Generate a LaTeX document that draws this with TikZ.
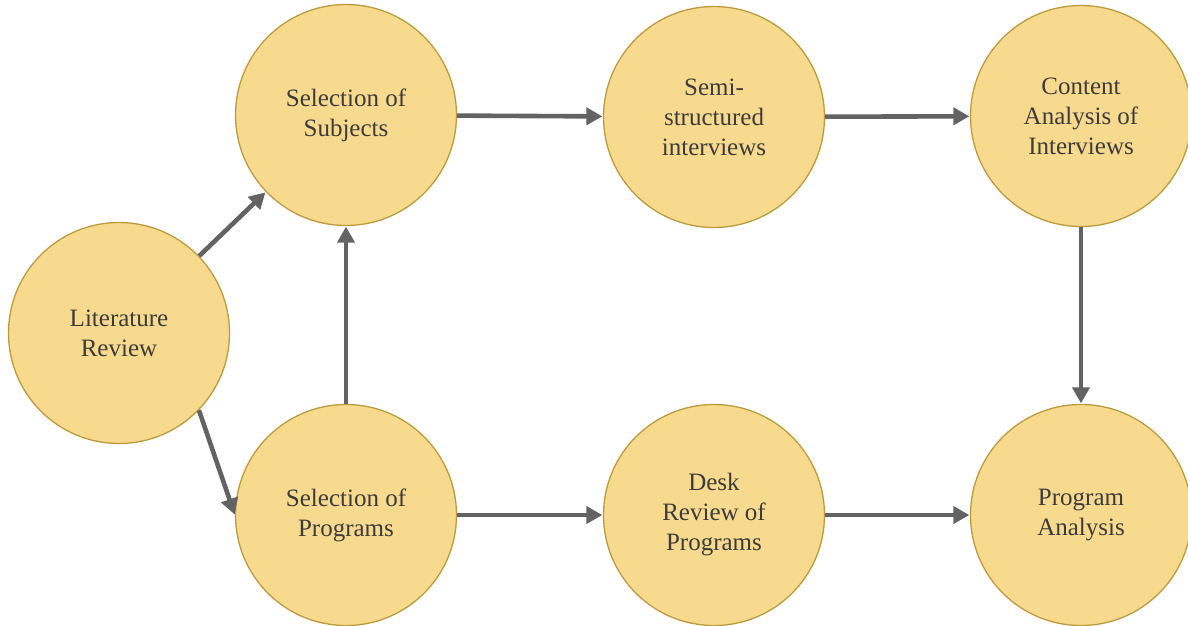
\documentclass[tikz,border=0pt]{standalone}
\usepackage{fontspec}
\setmainfont{Liberation Serif}
\usetikzlibrary{arrows.meta}
\definecolor{stagefill}{HTML}{F8DA8E}
\definecolor{stageline}{HTML}{BE9A3C}
\definecolor{stagetext}{HTML}{3C3C3C}
\definecolor{flowgray}{HTML}{636363}
\begin{document}
\begin{tikzpicture}[x=1pt,y=-1pt,
  stage/.style={circle, draw=stageline, fill=stagefill, line width=1.3pt,
    minimum size=221pt, inner sep=0pt, text=stagetext, align=center,
    font=\fontsize{25}{30}\selectfont},
  flow/.style={draw=flowgray, line width=4.6pt,
    -{Triangle[length=16pt,width=17pt]}, shorten >=0.5pt}]
\useasboundingbox (0,0) rectangle (1188,625);
% process stages
\node[stage] (lit)  at (119,333)  {Literature\\Review};
\node[stage] (subj) at (346,115)  {Selection of\\Subjects};
\node[stage] (semi) at (714,117)  {Semi-\\structured\\interviews};
\node[stage] (cont) at (1081,116) {Content\\Analysis of\\Interviews};
\node[stage] (prog) at (346,515)  {Selection of\\Programs};
\node[stage] (desk) at (714,515)  {Desk\\Review of\\Programs};
\node[stage] (anal) at (1081,515) {Program\\Analysis};
% flow between stages
\draw[flow] (lit) -- (subj);
\draw[flow] (lit.-44) -- (prog.west);
\draw[flow] (prog) -- (subj);
\draw[flow] (subj) -- (semi);
\draw[flow] (semi) -- (cont);
\draw[flow] (cont) -- (anal);
\draw[flow] (prog) -- (desk);
\draw[flow] (desk) -- (anal);
\end{tikzpicture}
\end{document}
